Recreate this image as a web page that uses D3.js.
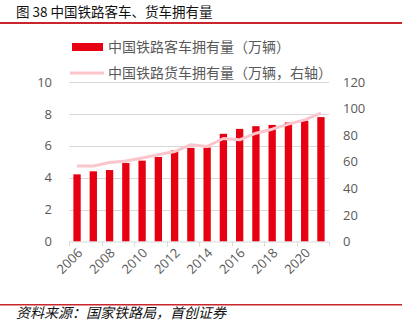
<!DOCTYPE html>
<html><head><meta charset="utf-8">
<script src="https://cdn.jsdelivr.net/npm/d3@7"></script>
<style>body{margin:0;background:#fff}svg{display:block}</style>
</head><body>
<script>
const years = [2006,2007,2008,2009,2010,2011,2012,2013,2014,2015,2016,2017,2018,2019,2020,2021];
const passengerCars = [4.21,4.40,4.48,4.92,5.07,5.30,5.72,5.87,5.89,6.75,7.06,7.23,7.31,7.46,7.57,7.80];
const freightCars = [56.8,56.8,59.5,60.5,62.8,65.3,67.7,72.8,71.5,77.5,76.5,81.5,84.5,88.3,91.5,96.5];
const leftTicks = [0,2,4,6,8,10];
const rightTicks = [0,20,40,60,80,100,120];
const xLabels = [2006,2008,2010,2012,2014,2016,2018,2020];
const seriesNames = ["中国铁路客车拥有量（万辆）","中国铁路货车拥有量（万辆，右轴）"];
const titleText = "图 38 中国铁路客车、货车拥有量";
const sourceText = "资料来源：国家铁路局，首创证券";

const W=410,H=322;
const svg=d3.select("body").append("svg").attr("width",W).attr("height",H);
const font="'Noto Sans CJK SC','Noto Sans',sans-serif";
const gray="#595959";

// title & rules
svg.append("text").attr("x",16).attr("y",17).attr("font-family",font).attr("font-size",13.5)
  .attr("fill","#111").text(titleText);
svg.append("rect").attr("x",0).attr("y",22).attr("width",402).attr("height",2).attr("fill","#c9252c");
svg.append("rect").attr("x",0).attr("y",304).attr("width",402).attr("height",1.5).attr("fill","#c9252c");
svg.append("text").attr("x",16).attr("y",318).attr("font-family",font).attr("font-size",14)
  .attr("font-style","italic").attr("fill","#111").text(sourceText);

const x0=69,x1=329,yTop=82,yBot=241.5;
const x=d3.scaleBand().domain(years).range([x0,x1]).paddingInner(0.55).paddingOuter(0.27);
const yL=d3.scaleLinear().domain([0,10]).range([yBot,yTop]);
const yR=d3.scaleLinear().domain([0,120]).range([yBot,yTop]);

// gridlines
svg.append("g").selectAll("line").data(leftTicks.filter(d=>d>0)).join("line")
  .attr("x1",x0).attr("x2",x1).attr("y1",d=>Math.round(yL(d))+0.5).attr("y2",d=>Math.round(yL(d))+0.5)
  .attr("stroke","#d9d9d9").attr("stroke-width",1);

// left axis
const gl=svg.append("g").attr("transform",`translate(${x0},0)`)
  .call(d3.axisLeft(yL).tickValues(leftTicks).tickSize(0).tickPadding(17));
gl.select(".domain").remove();
gl.selectAll("text").attr("font-family","'Open Sans',sans-serif").attr("font-size",13).attr("fill",gray);

// right axis
const gr=svg.append("g").attr("transform",`translate(${x1},0)`)
  .call(d3.axisRight(yR).tickValues(rightTicks).tickSize(0).tickPadding(14));
gr.select(".domain").remove();
gr.selectAll("text").attr("font-family","'Open Sans',sans-serif").attr("font-size",13).attr("fill",gray);

// bars
svg.append("g").selectAll("rect").data(years).join("rect")
  .attr("x",(d)=>x(d)).attr("width",x.bandwidth())
  .attr("y",(d,i)=>yL(passengerCars[i])).attr("height",(d,i)=>yBot-yL(passengerCars[i]))
  .attr("fill","#e60012");

// x axis
svg.append("line").attr("x1",x0).attr("x2",x1).attr("y1",yBot+0.5).attr("y2",yBot+0.5)
  .attr("stroke","#d9d9d9");
const tickXs=d3.range(0,years.length+1,2).map(i=>x0+ (x1-x0)*i/years.length);
svg.append("g").selectAll("line").data(tickXs).join("line")
  .attr("x1",d=>Math.round(d)+0.5).attr("x2",d=>Math.round(d)+0.5).attr("y1",yBot).attr("y2",yBot+5)
  .attr("stroke","#d9d9d9");
svg.append("g").selectAll("text").data(xLabels).join("text")
  .attr("transform",d=>`translate(${x(d)+x.bandwidth()/2+3},${yBot+9}) rotate(-45)`)
  .attr("text-anchor","end").attr("dy","0.35em")
  .attr("font-family","'Open Sans',sans-serif").attr("font-size",13).attr("fill",gray).text(d=>d);

// line
const line=d3.line().x((d,i)=>x(years[i])+x.bandwidth()/2).y(d=>yR(d));
svg.append("path").datum(freightCars).attr("d",line).attr("fill","none")
  .attr("stroke","#fac6cb").attr("stroke-width",3).attr("stroke-linejoin","round");

// legend
svg.append("rect").attr("x",72).attr("y",43).attr("width",31).attr("height",8).attr("fill","#e60012");
svg.append("text").attr("x",108).attr("y",47).attr("dy","0.35em").attr("font-family",font)
  .attr("font-size",14).attr("fill",gray).text(seriesNames[0]);
svg.append("line").attr("x1",70).attr("x2",104).attr("y1",73).attr("y2",73)
  .attr("stroke","#fac6cb").attr("stroke-width",3);
svg.append("text").attr("x",108).attr("y",73).attr("dy","0.35em").attr("font-family",font)
  .attr("font-size",14).attr("fill",gray).text(seriesNames[1]);
</script>
</body></html>
